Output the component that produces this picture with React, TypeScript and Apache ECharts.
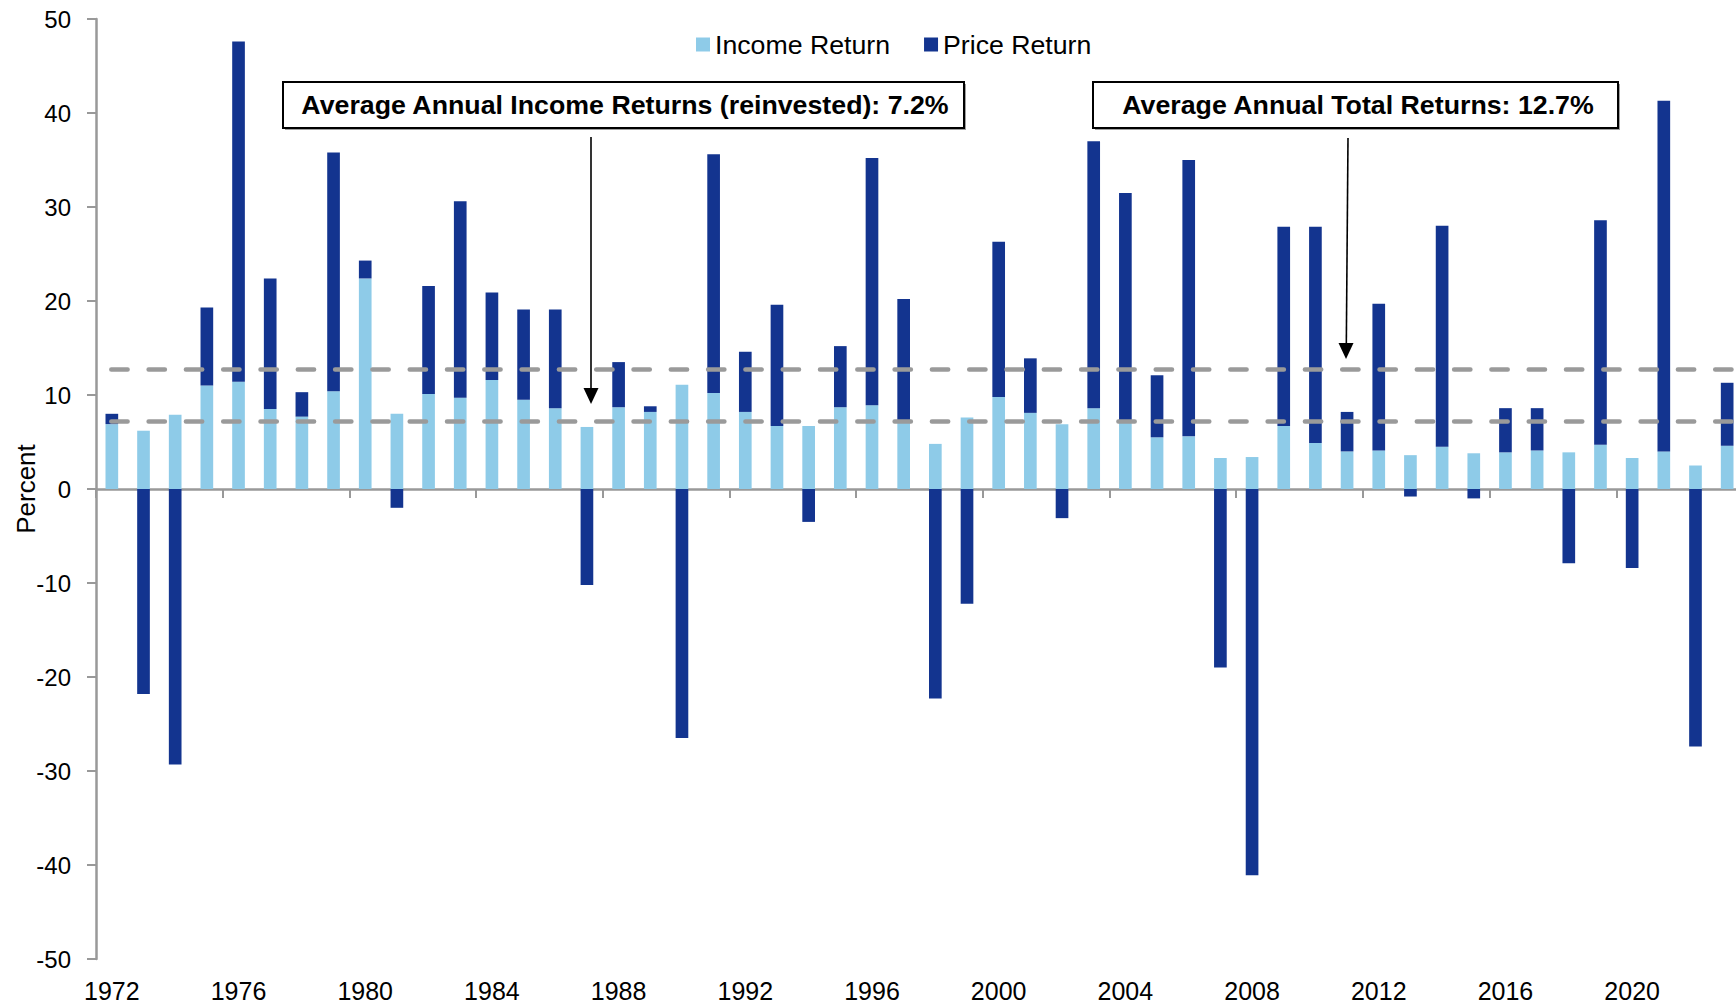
import React, { useEffect, useRef } from "react";
import * as echarts from "echarts";

const years = [
  "1972", "1973", "1974", "1975", "1976", "1977", "1978", "1979", "1980", "1981",
  "1982", "1983", "1984", "1985", "1986", "1987", "1988", "1989", "1990", "1991",
  "1992", "1993", "1994", "1995", "1996", "1997", "1998", "1999", "2000", "2001",
  "2002", "2003", "2004", "2005", "2006", "2007", "2008", "2009", "2010", "2011",
  "2012", "2013", "2014", "2015", "2016", "2017", "2018", "2019", "2020", "2021",
  "2022", "2023",
];

const incomeReturn = [
  6.9, 6.2, 7.9, 11.0, 11.4, 8.5, 7.7, 10.4, 22.4, 8.0,
  10.1, 9.7, 11.6, 9.5, 8.6, 6.6, 8.7, 8.2, 11.1, 10.2,
  8.2, 6.7, 6.7, 8.7, 8.9, 7.3, 4.8, 7.6, 9.8, 8.1,
  6.9, 8.6, 7.3, 5.5, 5.6, 3.3, 3.4, 6.7, 4.9, 4.0,
  4.1, 3.6, 4.5, 3.8, 3.9, 4.1, 3.9, 4.7, 3.3, 4.0,
  2.5, 4.6,
];

const priceReturn = [
  1.1, -21.8, -29.3, 8.3, 36.2, 13.9, 2.6, 25.4, 1.9, -2.0,
  11.5, 20.9, 9.3, 9.6, 10.5, -10.2, 4.8, 0.6, -26.5, 25.4,
  6.4, 12.9, -3.5, 6.5, 26.3, 12.9, -22.3, -12.2, 16.5, 5.8,
  -3.1, 28.4, 24.2, 6.6, 29.4, -19.0, -41.1, 21.2, 23.0, 4.2,
  15.6, -0.8, 23.5, -1.0, 4.7, 4.5, -7.9, 23.9, -8.4, 37.3,
  -27.4, 6.7,
];

const avgIncome = 7.2;
const avgTotal = 12.7;
const seriesNames = ["Income Return", "Price Return"];
const annotationIncome = "Average Annual Income Returns (reinvested): 7.2%";
const annotationTotal = "Average Annual Total Returns: 12.7%";
const yAxisName = "Percent";

const FONT = '"Liberation Sans", Arial, Helvetica, sans-serif';
const LIGHT = "#8ECBE8";
const DARK = "#13348F";
const AXIS = "#999999";

export default function App() {
  const ref = useRef<HTMLDivElement>(null);

  useEffect(() => {
    if (!ref.current) return;
    const chart = echarts.init(ref.current, null, { renderer: "svg" });

    const arrowLine = { stroke: "#000", lineWidth: 1.6 };

    chart.setOption({
      animation: false,
      backgroundColor: "#ffffff",
      textStyle: { fontFamily: FONT },
      grid: {
        left: 96,
        right: -7,
        top: 19,
        bottom: 48,
        containLabel: false,
        outerBoundsMode: "none",
      },
      legend: {
        data: seriesNames,
        left: 691,
        top: 26,
        icon: "rect",
        itemWidth: 14,
        itemHeight: 14,
        itemGap: 34,
        textStyle: { fontSize: 26.7, color: "#000", fontFamily: FONT },
      },
      xAxis: [
        {
          type: "category",
          data: years,
          position: "bottom",
          axisLine: { show: false, onZero: false },
          axisTick: { show: false },
          splitLine: { show: false },
          axisLabel: {
            interval: 3,
            fontSize: 25,
            color: "#000",
            margin: 19,
            fontFamily: FONT,
          },
        },
        {
          type: "category",
          data: years,
          position: "top",
          axisLine: { show: true, onZero: true, lineStyle: { color: AXIS, width: 2.5 } },
          axisTick: { show: true, interval: 3, inside: true, length: 9, lineStyle: { color: AXIS, width: 2 } },
          axisLabel: { show: false },
          splitLine: { show: false },
        },
      ],
      yAxis: {
        type: "value",
        min: -50,
        max: 50,
        interval: 10,
        name: yAxisName,
        nameLocation: "middle",
        nameGap: 57,
        nameMoveOverlap: false,
        nameTextStyle: { fontSize: 26, color: "#000", fontFamily: FONT },
        axisLine: { show: true, onZero: false, lineStyle: { color: AXIS, width: 2.5 } },
        axisTick: { show: true, length: 9, lineStyle: { color: AXIS, width: 2 } },
        splitLine: { show: false },
        axisLabel: { fontSize: 24, color: "#000", margin: 25, fontFamily: FONT },
      },
      series: [
        {
          name: seriesNames[0],
          type: "bar",
          stack: "total",
          xAxisIndex: 0,
          barWidth: "40%",
          itemStyle: { color: LIGHT },
          data: incomeReturn,
        },
        {
          name: seriesNames[1],
          type: "bar",
          stack: "total",
          xAxisIndex: 0,
          barWidth: "40%",
          itemStyle: { color: DARK },
          data: priceReturn,
          markLine: {
            silent: true,
            symbol: ["none", "none"],
            label: { show: false },
            z: 5,
            lineStyle: {
              color: "#9a9a9a",
              width: 4.5,
              type: [16.3, 21],
              dashOffset: 22.3,
              cap: "round",
            },
            data: [{ yAxis: avgTotal }, { yAxis: avgIncome }],
          },
        },
      ],
      graphic: [
        // income annotation box
        { type: "rect", z: 20, shape: { x: 285, y: 84, width: 681, height: 46 }, style: { fill: "#a0a0a0" } },
        { type: "rect", z: 21, shape: { x: 283, y: 82, width: 681, height: 46 }, style: { fill: "#fff", stroke: "#000", lineWidth: 2 } },
        {
          type: "text", z: 22, x: 625, y: 105, scaleX: 1.07,
          style: {
            text: annotationIncome, fill: "#000",
            font: `bold 25px ${FONT}`,
            align: "center", verticalAlign: "middle",
            textAlign: "center", textVerticalAlign: "middle",
          },
        },
        // total annotation box
        { type: "rect", z: 20, shape: { x: 1095, y: 84, width: 525, height: 46 }, style: { fill: "#a0a0a0" } },
        { type: "rect", z: 21, shape: { x: 1093, y: 82, width: 525, height: 46 }, style: { fill: "#fff", stroke: "#000", lineWidth: 2 } },
        {
          type: "text", z: 22, x: 1358, y: 105, scaleX: 1.07,
          style: {
            text: annotationTotal, fill: "#000",
            font: `bold 25px ${FONT}`,
            align: "center", verticalAlign: "middle",
            textAlign: "center", textVerticalAlign: "middle",
          },
        },
        // arrows
        { type: "line", z: 22, shape: { x1: 591, y1: 137, x2: 591, y2: 392 }, style: arrowLine },
        { type: "polygon", z: 22, shape: { points: [[583.5, 388], [598.5, 388], [591, 404]] }, style: { fill: "#000" } },
        { type: "line", z: 22, shape: { x1: 1348, y1: 138, x2: 1346.3, y2: 346 }, style: arrowLine },
        { type: "polygon", z: 22, shape: { points: [[1338.5, 343], [1353.5, 343], [1346, 359]] }, style: { fill: "#000" } },
      ],
    });

    return () => chart.dispose();
  }, []);

  return (
    <div
      ref={ref}
      style={{ position: "fixed", left: 0, top: 0, width: 1736, height: 1007, background: "#fff" }}
    />
  );
}
